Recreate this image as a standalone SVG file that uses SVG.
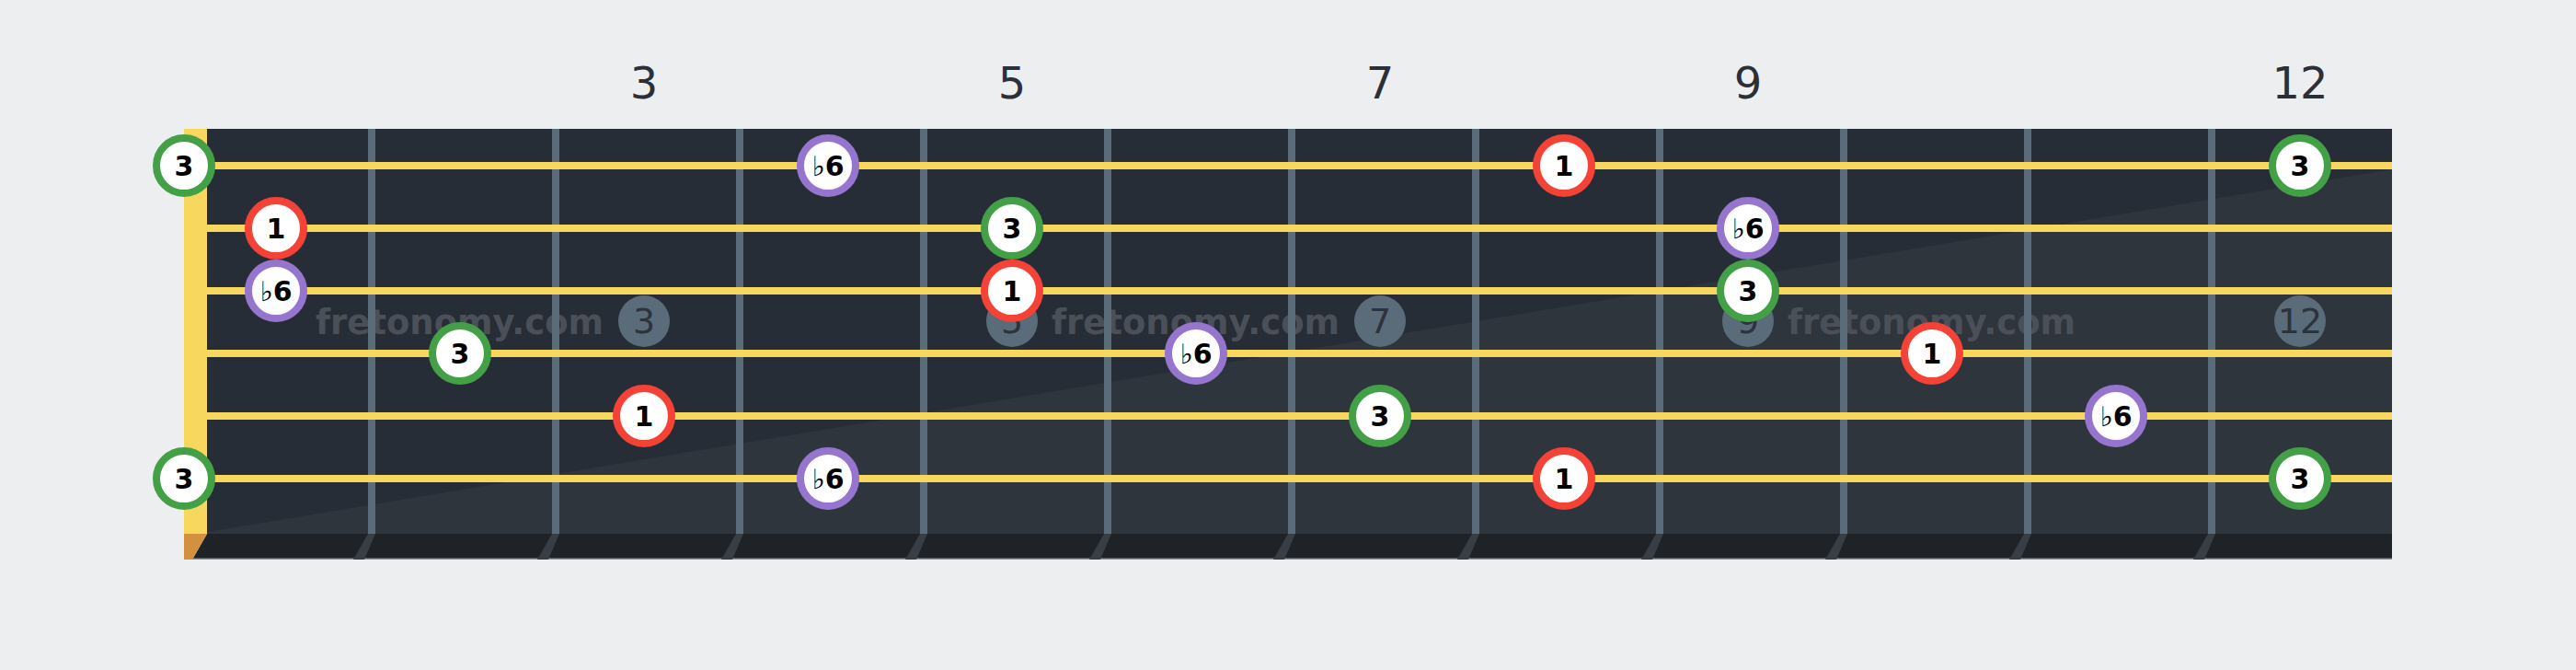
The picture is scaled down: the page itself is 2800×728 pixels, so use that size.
<svg xmlns="http://www.w3.org/2000/svg" width="2800" height="728" viewBox="0 0 2800 728">
  <style>
    .fret { fill: #5a6b7a; }
    .string { fill: #f8d75f; }
    .strip { fill: #393d44; }
    .inlay { fill: #5a6b7a; }
    .inlay-t { font-family: "DejaVu Sans", sans-serif; font-size: 38px; fill: #2c333c; text-anchor: middle; }
    .fretnum { font-family: "DejaVu Sans", sans-serif; font-size: 48px; fill: #2b3038; text-anchor: middle; }
    .wm { font-family: "DejaVu Sans", sans-serif; font-size: 37px; font-weight: bold; fill: #4b5058; }
    .note { fill: #ffffff; stroke-width: 8; }
    .r { stroke: #f44336; }
    .g { stroke: #43a047; }
    .p { stroke: #9575cd; }
    .nt { font-family: "DejaVu Sans", sans-serif; font-size: 30px; font-weight: bold; fill: #000000; text-anchor: middle; }
    .flat { font-weight: normal; }
  </style>
  <rect x="0" y="0" width="2800" height="728" fill="#edeef0"/>

  <g id="fret-numbers">
    <text class="fretnum" x="700" y="107">3</text>
    <text class="fretnum" x="1100" y="107">5</text>
    <text class="fretnum" x="1500" y="107">7</text>
    <text class="fretnum" x="1900" y="107">9</text>
    <text class="fretnum" x="2500" y="107">12</text>
  </g>

  <g id="fretboard">
    <rect x="225" y="140" width="2375" height="440" fill="#272d36"/>
    <polygon points="225,578 2600,184 2600,580 225,580" fill="#2f353d"/>
    <polygon points="225,580 2600,580 2600,608 209,608" fill="#1f2226"/>
    <rect x="209" y="606.5" width="2391" height="1.5" fill="#8d9399"/>
    <polygon points="200,580 225,580 209,608 200,608" fill="#d39140"/>
    <rect x="200" y="140" width="25" height="440" fill="#f8d75f"/>
  </g>

  <g id="inlays">
    <circle class="inlay" cx="700" cy="349" r="28"/>
    <circle class="inlay" cx="1100" cy="349" r="28"/>
    <circle class="inlay" cx="1500" cy="349" r="28"/>
    <circle class="inlay" cx="1900" cy="349" r="28"/>
    <circle class="inlay" cx="2500" cy="349" r="28"/>
    <text class="inlay-t" x="700" y="362">3</text>
    <text class="inlay-t" x="1100" y="362">5</text>
    <text class="inlay-t" x="1500" y="362">7</text>
    <text class="inlay-t" x="1900" y="362">9</text>
    <text class="inlay-t" x="2500" y="362">12</text>
  </g>

  <g id="watermark">
    <text class="wm" x="343" y="363" textLength="313" lengthAdjust="spacingAndGlyphs">fretonomy.com</text>
    <text class="wm" x="1143" y="363" textLength="313" lengthAdjust="spacingAndGlyphs">fretonomy.com</text>
    <text class="wm" x="1943" y="363" textLength="313" lengthAdjust="spacingAndGlyphs">fretonomy.com</text>
  </g>

  <g id="frets">
    <rect class="fret" x="400" y="140" width="8" height="440"/>
    <rect class="fret" x="600" y="140" width="8" height="440"/>
    <rect class="fret" x="800" y="140" width="8" height="440"/>
    <rect class="fret" x="1000" y="140" width="8" height="440"/>
    <rect class="fret" x="1200" y="140" width="8" height="440"/>
    <rect class="fret" x="1400" y="140" width="8" height="440"/>
    <rect class="fret" x="1600" y="140" width="8" height="440"/>
    <rect class="fret" x="1800" y="140" width="8" height="440"/>
    <rect class="fret" x="2000" y="140" width="8" height="440"/>
    <rect class="fret" x="2200" y="140" width="8" height="440"/>
    <rect class="fret" x="2400" y="140" width="8" height="440"/>
    <polygon class="strip" points="400,580 408,580 396,608 384,608"/>
    <polygon class="strip" points="600,580 608,580 596,608 584,608"/>
    <polygon class="strip" points="800,580 808,580 796,608 784,608"/>
    <polygon class="strip" points="1000,580 1008,580 996,608 984,608"/>
    <polygon class="strip" points="1200,580 1208,580 1196,608 1184,608"/>
    <polygon class="strip" points="1400,580 1408,580 1396,608 1384,608"/>
    <polygon class="strip" points="1600,580 1608,580 1596,608 1584,608"/>
    <polygon class="strip" points="1800,580 1808,580 1796,608 1784,608"/>
    <polygon class="strip" points="2000,580 2008,580 1996,608 1984,608"/>
    <polygon class="strip" points="2200,580 2208,580 2196,608 2184,608"/>
    <polygon class="strip" points="2400,580 2408,580 2396,608 2384,608"/>
  </g>

  <g id="strings">
    <rect class="string" x="225" y="176" width="2375" height="8"/>
    <rect class="string" x="225" y="244" width="2375" height="8"/>
    <rect class="string" x="225" y="312" width="2375" height="8"/>
    <rect class="string" x="225" y="380" width="2375" height="8"/>
    <rect class="string" x="225" y="448" width="2375" height="8"/>
    <rect class="string" x="225" y="516" width="2375" height="8"/>
  </g>

  <g id="n-s1-f0"><circle class="note g" cx="200" cy="180" r="30"/><text class="nt" x="200" y="191">3</text></g>
  <g id="n-s1-f4"><circle class="note p" cx="900" cy="180" r="30"/><text class="nt" x="900" y="191"><tspan class="flat">♭</tspan>6</text></g>
  <g id="n-s1-f8"><circle class="note r" cx="1700" cy="180" r="30"/><text class="nt" x="1700" y="191">1</text></g>
  <g id="n-s1-f12"><circle class="note g" cx="2500" cy="180" r="30"/><text class="nt" x="2500" y="191">3</text></g>

  <g id="n-s2-f1"><circle class="note r" cx="300" cy="248" r="30"/><text class="nt" x="300" y="259">1</text></g>
  <g id="n-s2-f5"><circle class="note g" cx="1100" cy="248" r="30"/><text class="nt" x="1100" y="259">3</text></g>
  <g id="n-s2-f9"><circle class="note p" cx="1900" cy="248" r="30"/><text class="nt" x="1900" y="259"><tspan class="flat">♭</tspan>6</text></g>

  <g id="n-s3-f1"><circle class="note p" cx="300" cy="316" r="30"/><text class="nt" x="300" y="327"><tspan class="flat">♭</tspan>6</text></g>
  <g id="n-s3-f5"><circle class="note r" cx="1100" cy="316" r="30"/><text class="nt" x="1100" y="327">1</text></g>
  <g id="n-s3-f9"><circle class="note g" cx="1900" cy="316" r="30"/><text class="nt" x="1900" y="327">3</text></g>

  <g id="n-s4-f3"><circle class="note g" cx="500" cy="384" r="30"/><text class="nt" x="500" y="395">3</text></g>
  <g id="n-s4-f6"><circle class="note p" cx="1300" cy="384" r="30"/><text class="nt" x="1300" y="395"><tspan class="flat">♭</tspan>6</text></g>
  <g id="n-s4-f10"><circle class="note r" cx="2100" cy="384" r="30"/><text class="nt" x="2100" y="395">1</text></g>

  <g id="n-s5-f3"><circle class="note r" cx="700" cy="452" r="30"/><text class="nt" x="700" y="463">1</text></g>
  <g id="n-s5-f7"><circle class="note g" cx="1500" cy="452" r="30"/><text class="nt" x="1500" y="463">3</text></g>
  <g id="n-s5-f11"><circle class="note p" cx="2300" cy="452" r="30"/><text class="nt" x="2300" y="463"><tspan class="flat">♭</tspan>6</text></g>

  <g id="n-s6-f0"><circle class="note g" cx="200" cy="520" r="30"/><text class="nt" x="200" y="531">3</text></g>
  <g id="n-s6-f4"><circle class="note p" cx="900" cy="520" r="30"/><text class="nt" x="900" y="531"><tspan class="flat">♭</tspan>6</text></g>
  <g id="n-s6-f8"><circle class="note r" cx="1700" cy="520" r="30"/><text class="nt" x="1700" y="531">1</text></g>
  <g id="n-s6-f12"><circle class="note g" cx="2500" cy="520" r="30"/><text class="nt" x="2500" y="531">3</text></g>
</svg>
